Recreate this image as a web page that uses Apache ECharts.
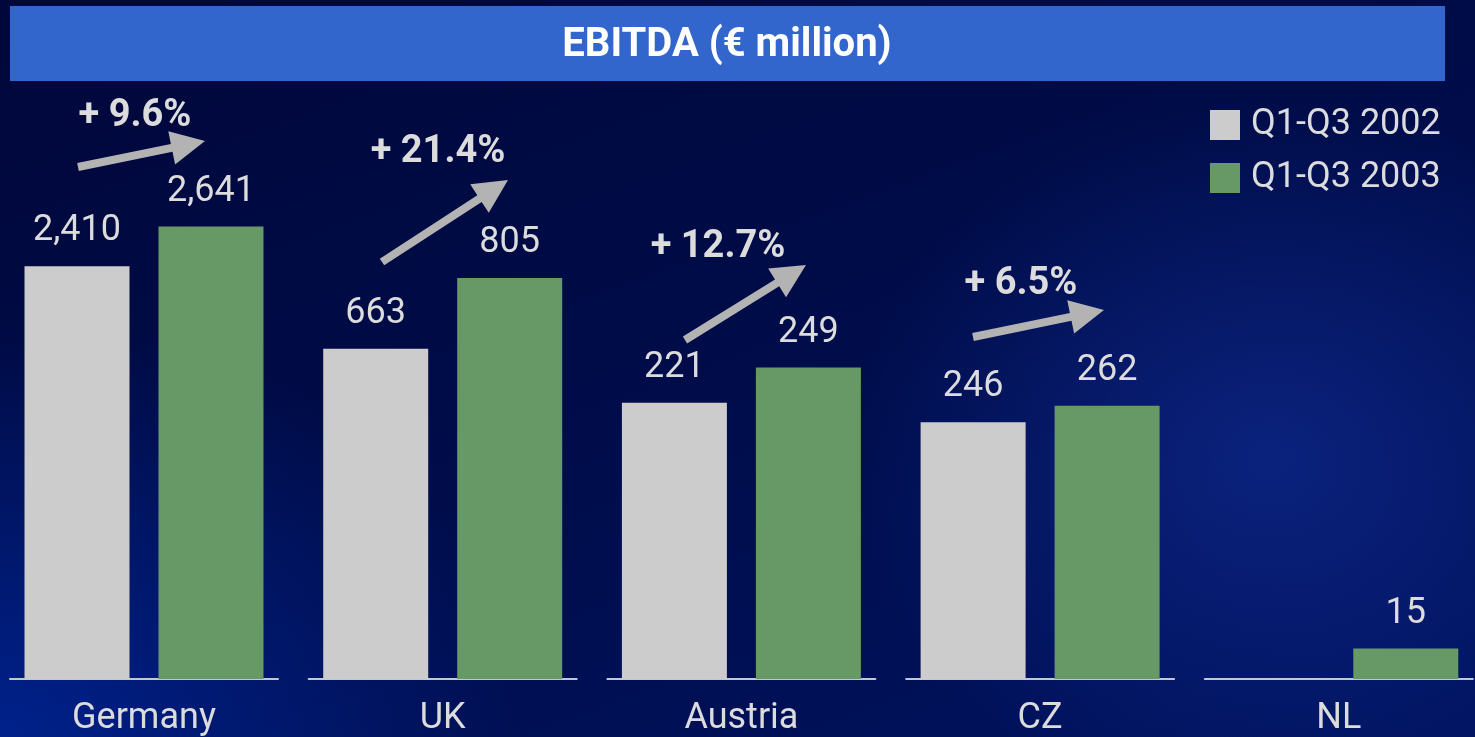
<!DOCTYPE html>
<html>
<head>
<meta charset="utf-8">
<title>EBITDA</title>
<script src="https://cdn.jsdelivr.net/npm/echarts@6/dist/echarts.min.js"></script>
<style>
  html, body { margin: 0; padding: 0; }
  #main {
    width: 1475px;
    height: 737px;
    background:
      radial-gradient(ellipse 420px 360px at 86% 62%, rgba(20, 50, 160, 0.55), rgba(20, 50, 160, 0) 100%),
      radial-gradient(ellipse 520px 420px at 0% 100%, rgba(0, 40, 160, 0.75), rgba(0, 40, 160, 0) 100%),
      linear-gradient(160deg, #00073a 0%, #000c48 45%, #001360 100%);
  }
</style>
</head>
<body>
<div id="main"></div>
<script>
// 数据
var countries = ['Germany', 'UK', 'Austria', 'CZ', 'NL'];
var ebitda2002 = [2410, 663, 221, 246, null];
var ebitda2003 = [2641, 805, 249, 262, 15];
var seriesNames = ['Q1-Q3 2002', 'Q1-Q3 2003'];
// each country has its own scale in the original slide
var scaleMax = [3380, 1162, 463, 555, 285];

var colors = ['#cccccc', '#669966'];
var textColor = '#dcdcdc';
var font = 'Roboto, "Liberation Sans", sans-serif';

// growth arrows: tail x,y -> tip x,y, label centre
var arrows = [
  { from: [78, 167], to: [205, 141], label: [135, 116] },
  { from: [382, 262], to: [508, 180], label: [438, 152] },
  { from: [685, 340], to: [806, 265], label: [718, 247] },
  { from: [973, 337], to: [1104, 310], label: [1021, 284] }
];

var chart = echarts.init(document.getElementById('main'), null, { renderer: 'canvas' });

var grids = [], xAxes = [], yAxes = [], series = [];
countries.forEach(function (name, i) {
  grids.push({ left: 10 + i * 298.7, width: 268, top: 100, bottom: 56 });
  xAxes.push({
    type: 'category',
    gridIndex: i,
    data: [name],
    axisLine: { lineStyle: { color: '#c4c6d2', width: 2 } },
    axisTick: { show: false },
    axisLabel: { color: textColor, fontSize: 36, fontFamily: font, margin: 22 }
  });
  yAxes.push({ type: 'value', gridIndex: i, min: 0, max: scaleMax[i], show: false, splitLine: { show: false } });
  [ebitda2002, ebitda2003].forEach(function (vals, k) {
    series.push({
      type: 'bar',
      name: seriesNames[k],
      xAxisIndex: i,
      yAxisIndex: i,
      barWidth: 105,
      barGap: '27.6%',
      itemStyle: { color: colors[k] },
      label: {
        show: true,
        position: 'top',
        distance: 17,
        color: textColor,
        fontSize: 36,
        fontFamily: font,
        formatter: function (p) { return p.value.toLocaleString('en-US'); }
      },
      data: [vals[i]]
    });
  });
});

// arrow polygon
function arrowPoints(a, b) {
  var dx = b[0] - a[0], dy = b[1] - a[1];
  var len = Math.sqrt(dx * dx + dy * dy);
  var ux = dx / len, uy = dy / len, nx = -uy, ny = ux;
  var head = 34, hw = 17, sw = 4;
  var bx = b[0] - ux * head, by = b[1] - uy * head;
  return [
    [a[0] + nx * sw, a[1] + ny * sw],
    [bx + nx * sw, by + ny * sw],
    [bx + nx * hw, by + ny * hw],
    b,
    [bx - nx * hw, by - ny * hw],
    [bx - nx * sw, by - ny * sw],
    [a[0] - nx * sw, a[1] - ny * sw]
  ];
}

var graphics = [
  { type: 'rect', shape: { x: 10, y: 6, width: 1435, height: 75 }, style: { fill: '#3366cc' }, z: 0 },
  {
    type: 'text', x: 727, y: 46, z: 1,
    style: {
      text: 'EBITDA (€ million)', fill: '#ffffff', font: 'bold 40px ' + font,
      textAlign: 'center', textVerticalAlign: 'middle'
    }
  }
];
arrows.forEach(function (ar, i) {
  var growth = (ebitda2003[i] - ebitda2002[i]) / ebitda2002[i] * 100;
  graphics.push({ type: 'polygon', shape: { points: arrowPoints(ar.from, ar.to) }, style: { fill: '#b3b3b3' }, z: 5 });
  graphics.push({
    type: 'text', x: ar.label[0], y: ar.label[1], z: 5,
    style: {
      text: '+ ' + growth.toFixed(1) + '%', fill: textColor, font: 'bold 38px ' + font,
      textAlign: 'center', textVerticalAlign: 'middle'
    }
  });
});

var option = {
  backgroundColor: 'transparent',
  animation: false,
  legend: {
    data: seriesNames,
    orient: 'vertical',
    left: 1205,
    top: 102,
    itemWidth: 30,
    itemHeight: 30,
    itemGap: 17,
    icon: 'rect',
    textStyle: { color: textColor, fontSize: 36, lineHeight: 30, fontFamily: font, padding: [0, 0, 0, 6] }
  },
  grid: grids,
  xAxis: xAxes,
  yAxis: yAxes,
  series: series,
  graphic: graphics
};

chart.setOption(option);
</script>
</body>
</html>
